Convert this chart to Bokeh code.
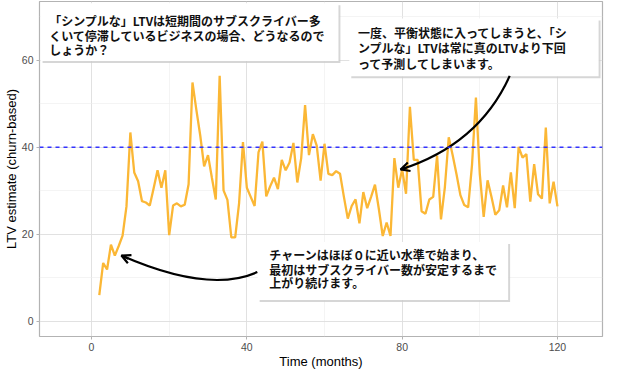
from bokeh.plotting import figure
from bokeh.models import Range1d, Span, Arrow, OpenHead, FixedTicker
from bokeh.core.properties import value
from bokeh.embed import file_html
from bokeh.resources import INLINE

# ---- data ----
months = list(range(2, 121))
ltv = [6.0, 13.4, 11.9, 17.6, 15.1, 17.3, 19.7, 26.4, 43.4, 34.2,
       32.2, 27.6, 27.3, 26.6, 30.6, 34.7, 30.7, 34.7, 19.8, 26.6,
       27.1, 26.4, 26.8, 31.5, 54.9, 48.6, 42.7, 35.6, 38.2, 33.0,
       28.0, 56.4, 30.1, 27.9, 19.3, 19.3, 27.1, 41.2, 30.7, 28.6,
       26.5, 38.8, 41.3, 28.7, 31.0, 33.0, 30.4, 37.1, 34.7, 36.5,
       41.0, 31.9, 37.5, 49.7, 38.2, 43.0, 40.4, 32.3, 40.8, 33.9,
       33.6, 34.5, 33.9, 28.6, 23.6, 26.5, 28.0, 22.5, 29.7, 26.0,
       28.6, 31.4, 25.8, 19.6, 22.7, 19.6, 37.5, 30.7, 34.9, 29.3,
       49.3, 37.1, 37.1, 25.3, 24.7, 28.0, 28.6, 38.1, 23.4, 30.8,
       42.3, 38.2, 33.8, 29.0, 26.7, 26.2, 36.0, 51.4, 33.8, 24.0,
       32.4, 28.6, 24.5, 25.5, 31.2, 26.2, 34.2, 26.0, 40.1, 37.6,
       38.4, 27.5, 36.1, 29.2, 28.2, 44.5, 27.1, 32.1, 26.4]
true_ltv = 40
x_ticks = [0, 40, 80, 120]
y_ticks = [0, 20, 40, 60]

note1 = ["「シンプルな」LTVは短期間のサブスクライバー多",
         "くいて停滞しているビジネスの場合、どうなるので",
         "しょうか？"]
note2 = ["一度、平衡状態に入ってしまうと、「シ",
         "ンプルな」LTVは常に真のLTVより下回",
         "って予測してしまいます。"]
note3 = ["チャーンはほぼ０に近い水準で始まり、",
         "最初はサブスクライバー数が安定するまで",
         "上がり続けます。"]

FONT = "Noto Sans CJK JP"

p = figure(width=604, height=371, output_backend="svg", toolbar_location=None,
           x_range=Range1d(-13.4, 131.6), y_range=Range1d(-3.5, 73.5),
           min_border_left=20, min_border_right=2, min_border_top=1,
           min_border_bottom=0)
p.background_fill_color = "white"
p.border_fill_color = "white"
p.outline_line_color = "#B3B3B3"
p.outline_line_width = 1.2

for ax in (p.xaxis[0], p.yaxis[0]):
    ax.axis_line_color = None
    ax.major_tick_line_color = "#B3B3B3"
    ax.major_tick_in = 0
    ax.major_tick_out = 3
    ax.minor_tick_line_color = None
    ax.major_label_text_color = "#4D4D4D"
    ax.major_label_text_font = "Liberation Sans"
    ax.major_label_text_font_size = "10.5px"
    ax.axis_label_text_font = "Liberation Sans"
    ax.axis_label_text_font_size = "13px"
    ax.axis_label_text_font_style = "normal"
    ax.axis_label_text_color = "black"
    ax.major_label_standoff = 2
    ax.axis_label_standoff = 0
p.xaxis.ticker = FixedTicker(ticks=x_ticks, minor_ticks=[-20, 20, 60, 100, 140])
p.yaxis.ticker = FixedTicker(ticks=y_ticks, minor_ticks=[10, 30, 50, 70])
p.xaxis.axis_label = "Time (months)"
p.yaxis.axis_label = "LTV estimate (churn-based)"

for g in (p.xgrid[0], p.ygrid[0]):
    g.grid_line_color = "#DEDEDE"
    g.grid_line_width = 0.9
    g.minor_grid_line_color = "#EDEDED"
    g.minor_grid_line_width = 0.6

p.line(months, ltv, line_color="#FBB735", line_width=2.3)
p.add_layout(Span(location=true_ltv, dimension="width", line_color="#3333FF",
                  line_dash="4 4", line_width=1.4))

def box(l, r, t, b, lines, tx, ty):
    p.quad(left=l + 0.5, right=r + 0.5, top=t - 0.45, bottom=b - 0.45,
           fill_color="#CCCCCC", line_color=None, fill_alpha=0.8)
    p.quad(left=l, right=r, top=t, bottom=b, fill_color="white",
           line_color=None)
    p.text(x=[tx] * len(lines), y=ty, text=lines, text_font=value(FONT),
           text_font_style="bold", text_font_size="12px",
           text_color="#111111", text_baseline="middle", text_align="left")

# curved arrows (quadratic beziers)
def curve(x0, y0, cx, cy, x1, y1):
    p.quadratic(x0=[x0], y0=[y0], x1=[x1], y1=[y1], cx=[cx], cy=[cy],
                line_color="black", line_width=2.2)
    sx = x1 - 0.08 * (x1 - cx)
    sy = y1 - 0.08 * (y1 - cy)
    p.add_layout(Arrow(end=OpenHead(size=9, line_width=2.2, line_color="black"),
                       x_start=sx, y_start=sy, x_end=x1, y_end=y1,
                       line_color="black", line_width=2.2))

box(-13.1, 63.6, 73.1, 59.8, note1, -10.9, [69.1, 65.8, 62.4])
box(66.4, 130.6, 69.6, 56.3, note2, 68.6, [66.3, 62.9, 59.3])
box(42.8, 107.3, 18.2, 4.9, note3, 45.8, [15.3, 12.0, 8.8])

curve(107.7, 56.4, 99.7, 40.6, 79.6, 34.9)
curve(42.7, 11.3, 30.2, 6.3, 7.7, 15.1)

open("out.html", "w").write(file_html(p, INLINE))
